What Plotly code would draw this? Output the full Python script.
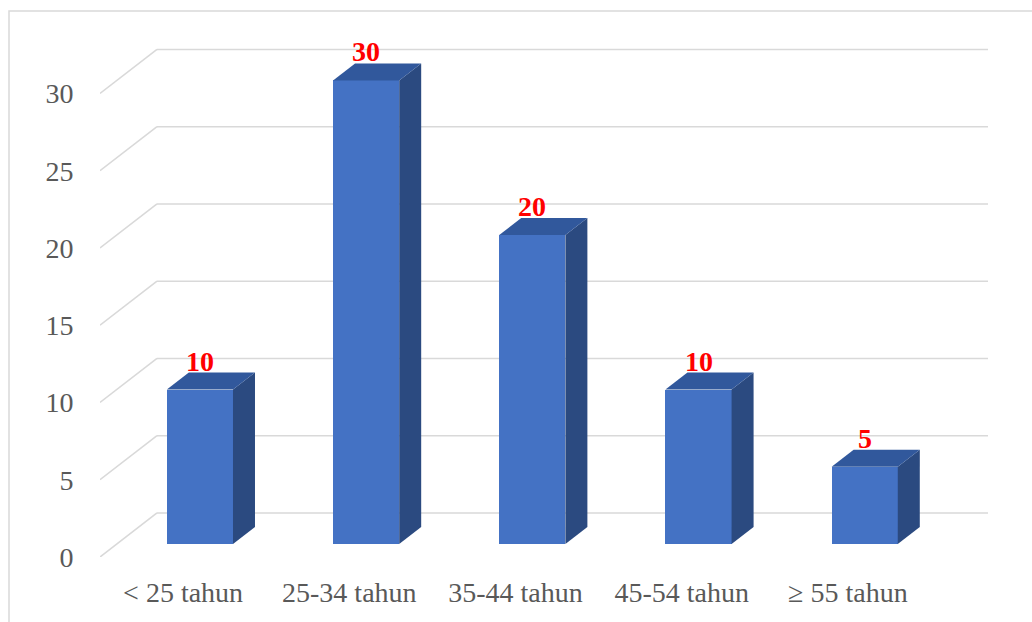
import plotly.graph_objects as go

categories = ["< 25 tahun", "25-34 tahun", "35-44 tahun", "45-54 tahun", "\u2265 55 tahun"]
values = [10, 30, 20, 10, 5]
y_ticks = [0, 5, 10, 15, 20, 25, 30]

# 3D projection geometry (style)
DX = 0.343      # full floor depth, x data units
DY = 2.85       # full floor depth, y data units
F_FRONT = 0.295 # bar front plane as fraction of depth
F_BAR = 0.386   # bar depth as fraction of depth
BAR_W = 0.398

FRONT = "#4472C4"
SIDE = "#2B4A80"
TOP = "#31589C"
GRID = "#D9D9D9"
SERIF = "Liberation Serif, Times New Roman, serif"

fig = go.Figure()

# gridlines as shapes below traces: left wall diagonals + back wall horizontals
x0 = -0.5
x1 = len(categories) - 0.5 + DX
shapes = []
for t in y_ticks:
    shapes.append(dict(type="line", xref="x", yref="y", x0=x0, y0=t, x1=x0 + DX, y1=t + DY,
                       line=dict(color=GRID, width=1.6), layer="below"))
    shapes.append(dict(type="line", xref="x", yref="y", x0=x0 + DX, y0=t + DY, x1=x1, y1=t + DY,
                       line=dict(color=GRID, width=1.6), layer="below"))
shapes.append(dict(type="rect", xref="paper", yref="paper",
                   x0=(9 - 100) / 888, x1=(1045 - 100) / 888,
                   y0=(557 - 635) / 517, y1=(557 - 11) / 517,
                   line=dict(color="#D9D9D9", width=1.5), fillcolor="rgba(0,0,0,0)", layer="below"))

fdx = F_FRONT * DX
fdy = F_FRONT * DY
bdx = F_BAR * DX
bdy = F_BAR * DY

xs = [i + fdx for i in range(len(categories))]
fig.add_trace(go.Bar(x=xs, y=values, base=[fdy] * len(values), width=BAR_W,
                     marker=dict(color=FRONT, line=dict(width=0)), showlegend=False,
                     hovertext=categories))

for i, v in enumerate(values):
    xl = xs[i] - BAR_W / 2
    xr = xs[i] + BAR_W / 2
    b = fdy
    tp = v + fdy
    # side face
    fig.add_trace(go.Scatter(x=[xr, xr + bdx, xr + bdx, xr, xr],
                             y=[b, b + bdy, tp + bdy, tp, b],
                             mode="lines", fill="toself", fillcolor=SIDE,
                             line=dict(width=0, color=SIDE), hoverinfo="skip", showlegend=False))
    # top face
    fig.add_trace(go.Scatter(x=[xl, xr, xr + bdx, xl + bdx, xl],
                             y=[tp, tp, tp + bdy, tp + bdy, tp],
                             mode="lines", fill="toself", fillcolor=TOP,
                             line=dict(width=0, color=TOP), hoverinfo="skip", showlegend=False))
    fig.add_annotation(x=xs[i], y=tp + bdy, text="<b>%d</b>" % v, showarrow=False,
                       yanchor="bottom", yshift=-6,
                       font=dict(family=SERIF, size=28, color="#FF0000"))

fig.update_layout(
    width=1032, height=622, autosize=False,
    margin=dict(l=100, r=44, t=40, b=65),
    paper_bgcolor="white", plot_bgcolor="white",
    font=dict(family=SERIF, size=28, color="#595959"),
    bargap=0,
    xaxis=dict(range=[-0.5, len(categories) - 0.5 + DX], tickmode="array",
               tickvals=list(range(len(categories))), ticktext=categories,
               showgrid=False, zeroline=False, showline=False,
               ticks="outside", ticklen=10, tickcolor="rgba(0,0,0,0)",
               tickfont=dict(family=SERIF, size=28, color="#595959")),
    yaxis=dict(range=[0, 33.46], tickmode="array", tickvals=y_ticks,
               showgrid=False, zeroline=False, showline=False,
               ticks="outside", ticklen=20, tickcolor="rgba(0,0,0,0)",
               tickfont=dict(family=SERIF, size=28, color="#595959")),
    shapes=shapes,
)

fig.write_html("out.html")
